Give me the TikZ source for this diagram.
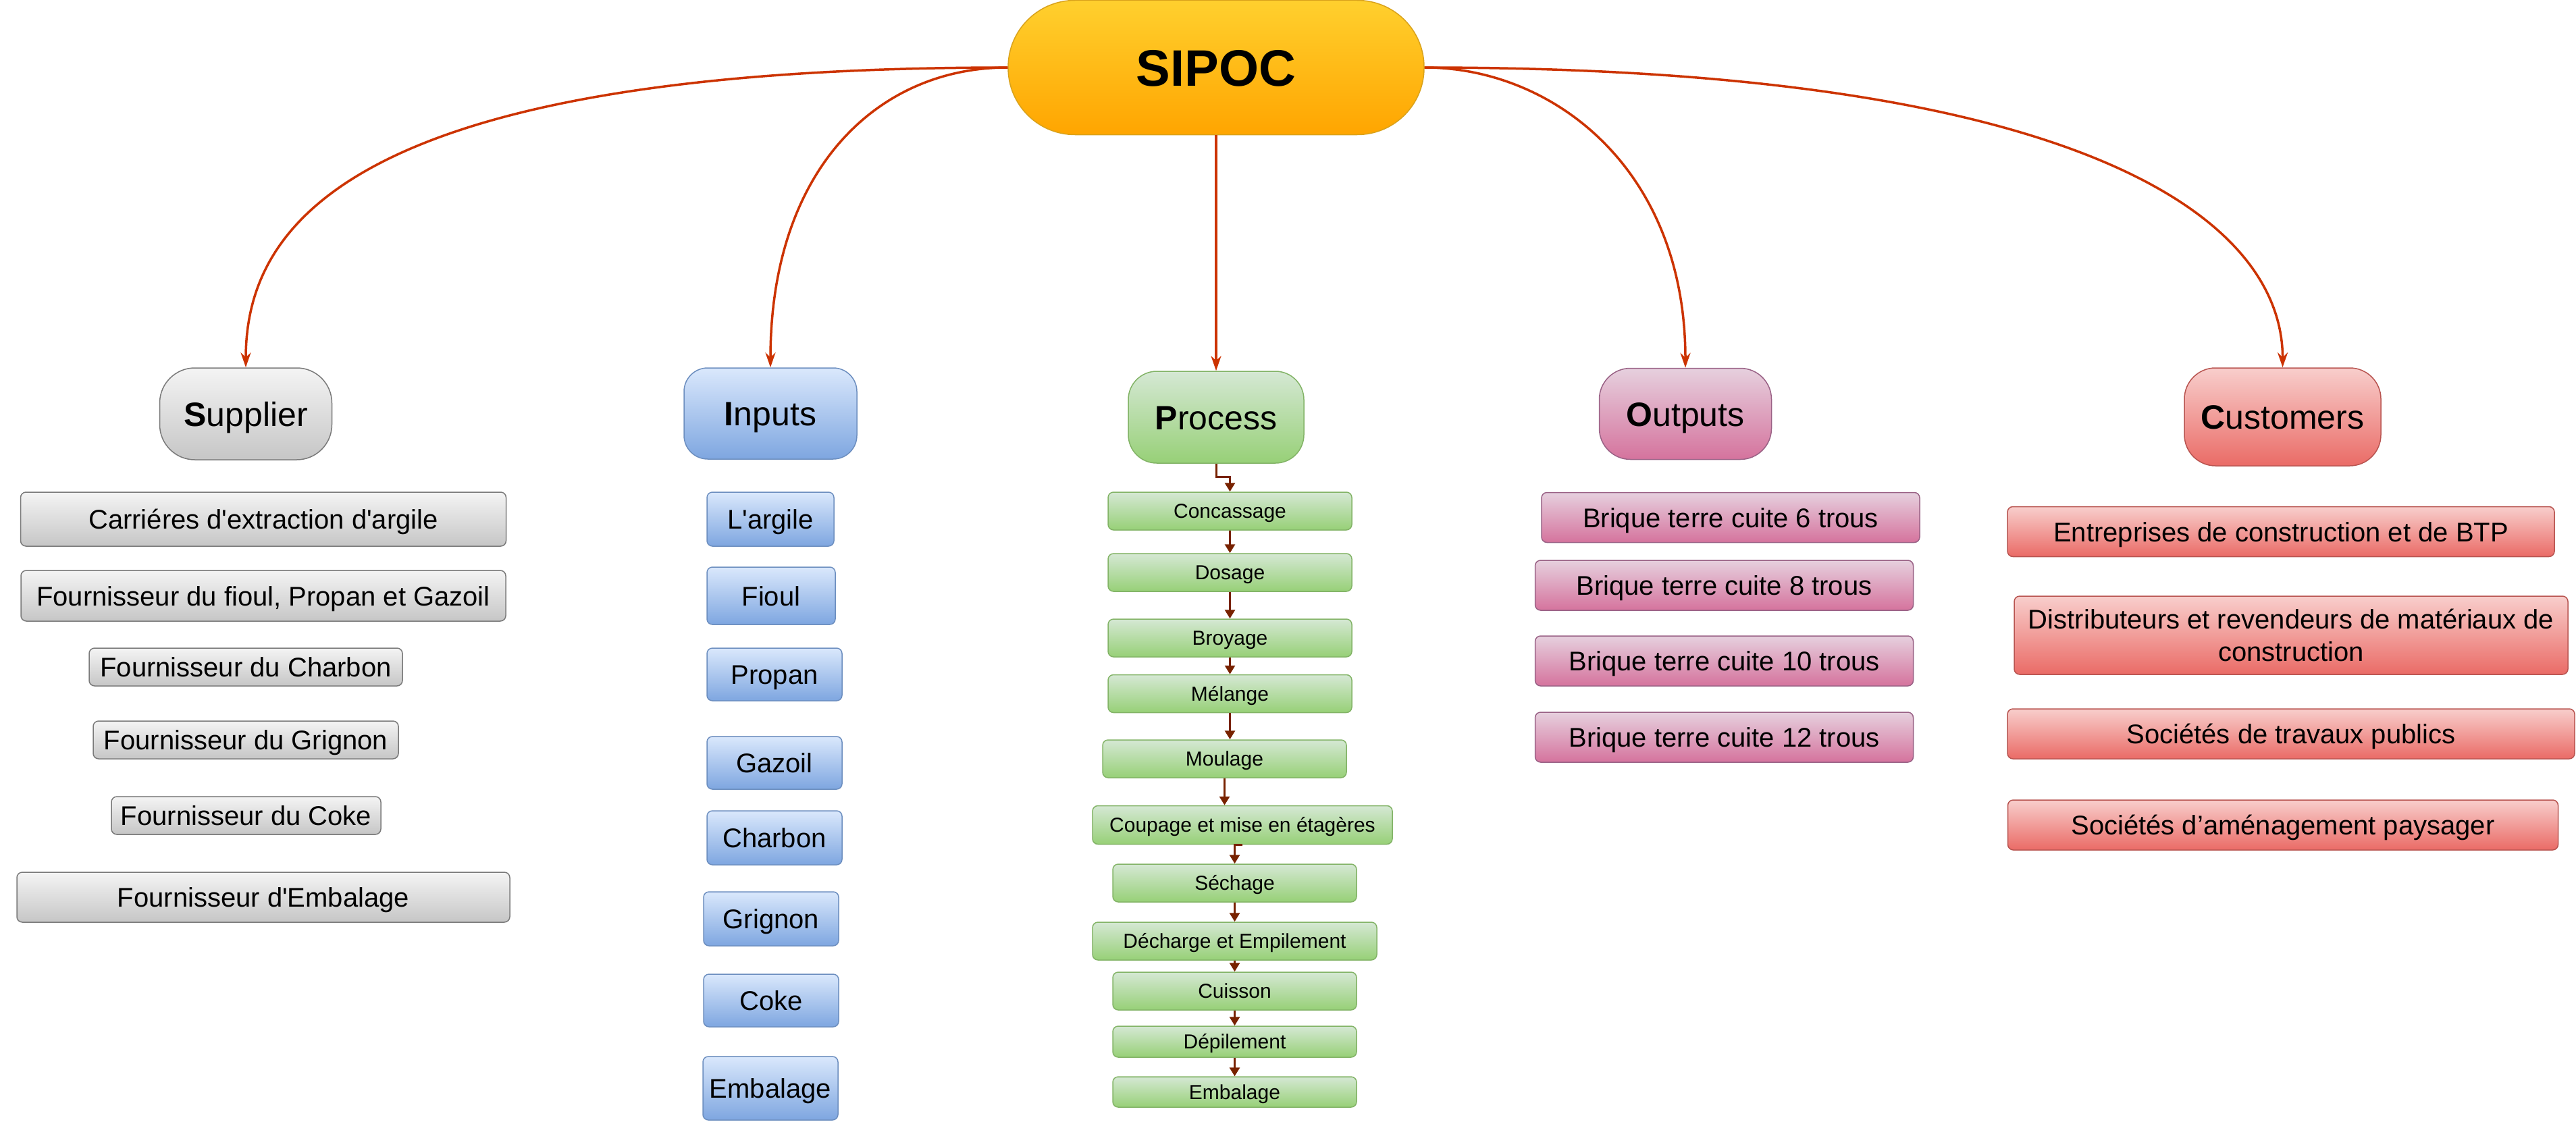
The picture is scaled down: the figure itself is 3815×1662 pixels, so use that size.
\documentclass[tikz,border=0pt]{standalone}
\usepackage{fontspec}
\newfontfamily\arialfont{Liberation Sans}
\usetikzlibrary{arrows.meta,shadings}
\definecolor{sipocT}{HTML}{FFD02E}
\definecolor{sipocB}{HTML}{FFA500}
\definecolor{sipocD}{HTML}{D9A21B}
\definecolor{grayT}{HTML}{F4F4F4}
\definecolor{grayB}{HTML}{C6C6C6}
\definecolor{grayD}{HTML}{7A7A7A}
\definecolor{blueT}{HTML}{DAE8FC}
\definecolor{blueB}{HTML}{7EA6E0}
\definecolor{blueD}{HTML}{6C8EBF}
\definecolor{greenT}{HTML}{D5E8D4}
\definecolor{greenB}{HTML}{97D077}
\definecolor{greenD}{HTML}{82B366}
\definecolor{pinkT}{HTML}{E6D0DE}
\definecolor{pinkB}{HTML}{D5739D}
\definecolor{pinkD}{HTML}{996185}
\definecolor{redT}{HTML}{F8CECC}
\definecolor{redB}{HTML}{EA6B66}
\definecolor{redD}{HTML}{B85450}
\definecolor{connC}{HTML}{CC3300}
\definecolor{flowC}{HTML}{782200}
\tikzset{
  box/.style 2 args={minimum width=#1pt, minimum height=#2pt},
  base/.style={draw, line width=1.5pt, inner sep=0pt, align=center, text=black},
  hdr/.style={base, font=\arialfont\fontsize{50}{60}\selectfont, text height=36pt, text depth=0pt},
  item/.style={base, rounded corners=8pt, font=\arialfont\fontsize{40}{48}\selectfont, text height=29pt, text depth=0pt},
  pitem/.style={base, rounded corners=8pt, font=\arialfont\fontsize{30}{36}\selectfont, text height=21.5pt, text depth=0pt},
  graystyle/.style={top color=grayT, bottom color=grayB, draw=grayD},
  bluestyle/.style={top color=blueT, bottom color=blueB, draw=blueD},
  greenstyle/.style={top color=greenT, bottom color=greenB, draw=greenD},
  pinkstyle/.style={top color=pinkT, bottom color=pinkB, draw=pinkD},
  redstyle/.style={top color=redT, bottom color=redB, draw=redD},
  conn/.style={draw=connC, line width=3.5pt, -{Stealth[length=22pt,width=15pt]}},
  flow/.style={draw=flowC, line width=3pt, -{Triangle[length=13pt,width=15pt]}},
}
\begin{document}
\arialfont
\begin{tikzpicture}[x=1pt,y=-1pt]
\useasboundingbox (0,0) rectangle (3815,1662);
% central node
\node[base, box={616}{199}, rounded corners=99pt, top color=sipocT, bottom color=sipocB, draw=sipocD,
  font=\arialfont\fontsize{76}{90}\selectfont\bfseries, text height=54.5pt, text depth=0pt] (sipoc) at (1801,100) {SIPOC};
% headers
\node[hdr, graystyle, box={255}{136}, rounded corners=52pt] (supplier) at (364,613) {{\bfseries S}upplier};
\node[hdr, bluestyle, box={256}{135}, rounded corners=35pt] (inputs) at (1141,612.5) {{\bfseries I}nputs};
\node[hdr, greenstyle, box={260}{136}, rounded corners=42pt] (process) at (1801,618) {{\bfseries P}rocess};
\node[hdr, pinkstyle, box={255}{135}, rounded corners=46pt] (outputs) at (2496,613) {{\bfseries O}utputs};
\node[hdr, redstyle, box={291}{145}, rounded corners=46pt] (customers) at (3380.5,617.5) {{\bfseries C}ustomers};
% supplier items
\node[item, graystyle, box={719}{80}] (s1) at (390,769) {Carriéres d'extraction d'argile};
\node[item, graystyle, box={718}{75}] (s2) at (390,882.5) {Fournisseur du fioul, Propan et Gazoil};
\node[item, graystyle, box={464}{56}] (s3) at (364,988) {Fournisseur du Charbon};
\node[item, graystyle, box={452}{56}] (s4) at (364,1096) {Fournisseur du Grignon};
\node[item, graystyle, box={399}{56}] (s5) at (364.5,1208) {Fournisseur du Coke};
\node[item, graystyle, box={730}{74}] (s6) at (390,1329) {Fournisseur d'Embalage};
% input items
\node[item, bluestyle, box={188}{80}] (i1) at (1141,769) {L'argile};
\node[item, bluestyle, box={190}{85}] (i2) at (1142,882.5) {Fioul};
\node[item, bluestyle, box={200}{78}] (i3) at (1147,999) {Propan};
\node[item, bluestyle, box={200}{78}] (i4) at (1147,1130) {Gazoil};
\node[item, bluestyle, box={200}{80}] (i5) at (1147,1241) {Charbon};
\node[item, bluestyle, box={200}{80}] (i6) at (1142,1361) {Grignon};
\node[item, bluestyle, box={200}{78}] (i7) at (1142,1482) {Coke};
\node[item, bluestyle, box={200}{94}] (i8) at (1141,1612) {Embalage};
% process items
\node[pitem, greenstyle, box={361}{56}] (p1) at (1821.5,757) {Concassage};
\node[pitem, greenstyle, box={361}{56}] (p2) at (1821.5,848) {Dosage};
\node[pitem, greenstyle, box={361}{56}] (p3) at (1821.5,945) {Broyage};
\node[pitem, greenstyle, box={361}{56}] (p4) at (1821.5,1027.5) {Mélange};
\node[pitem, greenstyle, box={361}{56}] (p5) at (1813.5,1124) {Moulage};
\node[pitem, greenstyle, box={444}{57}] (p6) at (1840,1222) {Coupage et mise en étagères};
\node[pitem, greenstyle, box={361}{56}] (p7) at (1828.5,1308) {Séchage};
\node[pitem, greenstyle, box={421}{56}] (p8) at (1828.5,1394) {Décharge et Empilement};
\node[pitem, greenstyle, box={361}{56}] (p9) at (1828.5,1468) {Cuisson};
\node[pitem, greenstyle, box={361}{46}] (p10) at (1828.5,1543) {Dépilement};
\node[pitem, greenstyle, box={361}{45}] (p11) at (1828.5,1617.5) {Embalage};
% output items
\node[item, pinkstyle, box={560}{74}] (o1) at (2563,766.5) {Brique terre cuite 6 trous};
\node[item, pinkstyle, box={560}{74}] (o2) at (2553.5,867) {Brique terre cuite 8 trous};
\node[item, pinkstyle, box={560}{74}] (o3) at (2553.5,979) {Brique terre cuite 10 trous};
\node[item, pinkstyle, box={560}{74}] (o4) at (2553.5,1092) {Brique terre cuite 12 trous};
% customer items
\node[item, redstyle, box={810}{74}] (c1) at (3378,787.5) {Entreprises de construction et de BTP};
\node[item, redstyle, box={820}{116}, text height={}, text depth={}] (c2) at (3393,941) {Distributeurs et revendeurs de matériaux de\\construction};
\node[item, redstyle, box={840}{74}] (c3) at (3393,1087) {Sociétés de travaux publics};
\node[item, redstyle, box={815}{74}] (c4) at (3381,1222) {Sociétés d’aménagement paysager};
% main connectors
\draw[conn] (sipoc.west) .. controls (510,100) and (364,338) .. (supplier.north);
\draw[conn] (sipoc.west) .. controls (1300,100) and (1141,250) .. (inputs.north);
\draw[conn] (sipoc.south) -- (process.north);
\draw[conn] (sipoc.east) .. controls (2300,100) and (2496,250) .. (outputs.north);
\draw[conn] (sipoc.east) .. controls (3100,100) and (3381,330) .. (customers.north);
% process flow
\draw[flow] (process.south) -- ++(0,20) -| (p1.north);
\draw[flow] (p1) -- (p2);
\draw[flow] (p2) -- (p3);
\draw[flow] (p3) -- (p4);
\draw[flow] (p4.south) -- (p4.south |- p5.north);
\draw[flow] (p5.south) -- (p5.south |- p6.north);
\draw[flow] (p6.south) -| (p7.north);
\draw[flow] (p7) -- (p8);
\draw[flow] (p8) -- (p9);
\draw[flow] (p9) -- (p10);
\draw[flow] (p10) -- (p11);
\end{tikzpicture}
\end{document}
